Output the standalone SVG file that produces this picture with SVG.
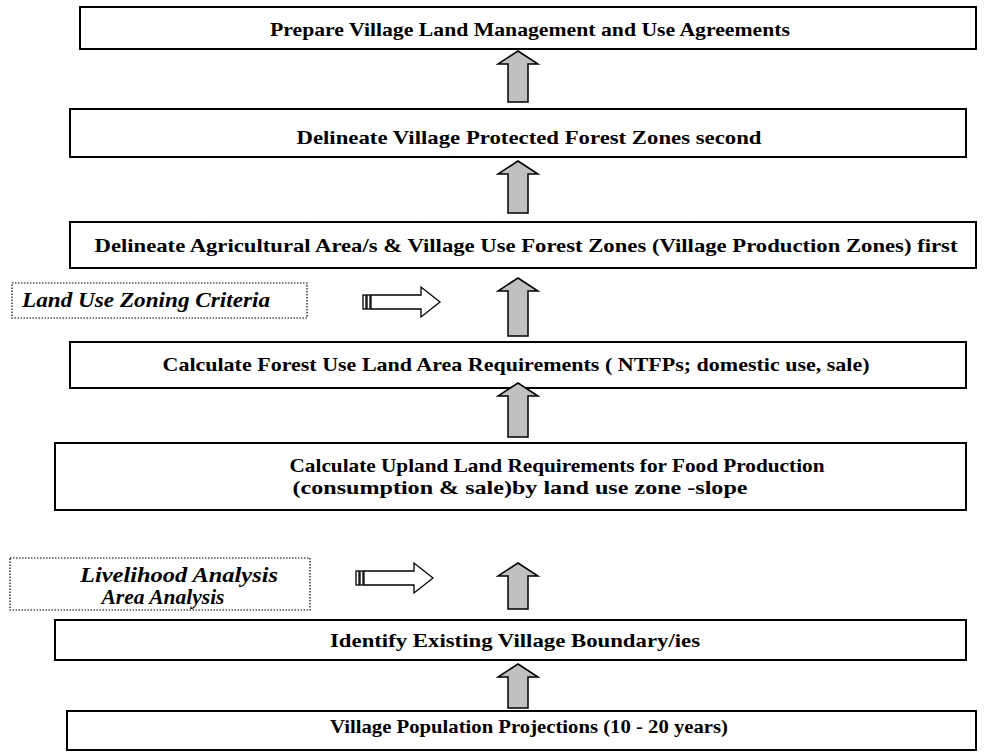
<svg xmlns="http://www.w3.org/2000/svg" width="986" height="752" viewBox="0 0 986 752">
<style>
.box{fill:#fff;stroke:#000;stroke-width:2}
.dot{fill:#fff;stroke:#000;stroke-width:1.2;stroke-dasharray:1.5 1.5}
.t{font-family:"Liberation Serif","Times New Roman",serif;font-weight:bold;font-size:19px;fill:#000;text-anchor:middle}
.it{font-family:"Liberation Serif","Times New Roman",serif;font-weight:bold;font-style:italic;font-size:20px;fill:#000;text-anchor:middle}
.up{fill:#c0c0c0;stroke:#000;stroke-width:1.5;stroke-linejoin:miter}
.side{fill:#fff;stroke:#000;stroke-width:1.3}
</style>
<defs>
<g id="sideArrow">
<rect class="side" x="0" y="-7" width="3" height="14"/>
<rect class="side" x="4" y="-7" width="3" height="14"/>
<polygon class="side" points="8,-7 58,-7 58,-15 77,0 58,15 58,7 8,7"/>
</g>
</defs>
<g id="n1"><rect class="box" x="80" y="7" width="896" height="42"/><text class="t" x="530" y="36" textLength="520" lengthAdjust="spacingAndGlyphs">Prepare Village Land Management and Use Agreements</text></g>
<g id="n2"><rect class="box" x="70" y="109" width="896" height="48"/><text class="t" x="529" y="144" textLength="465" lengthAdjust="spacingAndGlyphs">Delineate Village Protected Forest Zones second</text></g>
<g id="n3"><rect class="box" x="70" y="222" width="906" height="46"/><text class="t" x="526" y="252" textLength="863" lengthAdjust="spacingAndGlyphs">Delineate Agricultural Area/s  &amp; Village Use Forest Zones (Village Production Zones) first</text></g>
<g id="n4"><rect class="box" x="70" y="342" width="896" height="46"/><text class="t" x="516" y="371" textLength="707" lengthAdjust="spacingAndGlyphs">Calculate Forest Use Land Area Requirements ( NTFPs; domestic use, sale)</text></g>
<g id="n5"><rect class="box" x="55" y="443" width="911" height="67"/><text class="t" x="557" y="472" textLength="535" lengthAdjust="spacingAndGlyphs">Calculate Upland Land Requirements for Food Production</text><text class="t" x="520" y="494" textLength="455" lengthAdjust="spacingAndGlyphs">(consumption &amp; sale)by land use zone -slope</text></g>
<g id="n6"><rect class="box" x="55" y="620" width="911" height="40"/><text class="t" x="515" y="647" textLength="370" lengthAdjust="spacingAndGlyphs">Identify Existing Village Boundary/ies</text></g>
<g id="n7"><rect class="box" x="67" y="711" width="909" height="39"/><text class="t" x="529" y="733" textLength="398" lengthAdjust="spacingAndGlyphs">Village Population Projections (10 - 20 years)</text></g>
<g id="c1"><rect class="dot" x="12" y="283" width="295" height="35"/><text class="it" x="146" y="307" textLength="248" lengthAdjust="spacingAndGlyphs">Land Use Zoning Criteria</text></g>
<g id="c2"><rect class="dot" x="10" y="558" width="300" height="52"/><text class="it" x="179" y="582" textLength="198" lengthAdjust="spacingAndGlyphs">Livelihood Analysis</text><text class="it" x="163" y="604" textLength="123" lengthAdjust="spacingAndGlyphs">Area Analysis</text></g>
<g id="connectors">
<polygon class="up" points="518,51 538,64 528,64 528,102 508,102 508,64 498,64"/>
<polygon class="up" points="518,161 538,174 528,174 528,213 508,213 508,174 498,174"/>
<polygon class="up" points="518,278 538,291 528,291 528,336 508,336 508,291 498,291"/>
<polygon class="up" points="518,383 538,396 528,396 528,437 508,437 508,396 498,396"/>
<polygon class="up" points="518,563 538,576 528,576 528,609 508,609 508,576 498,576"/>
<polygon class="up" points="518,664 538,677 528,677 528,708 508,708 508,677 498,677"/>
<use href="#sideArrow" x="363" y="302"/>
<use href="#sideArrow" x="356" y="578"/>
</g>
</svg>
